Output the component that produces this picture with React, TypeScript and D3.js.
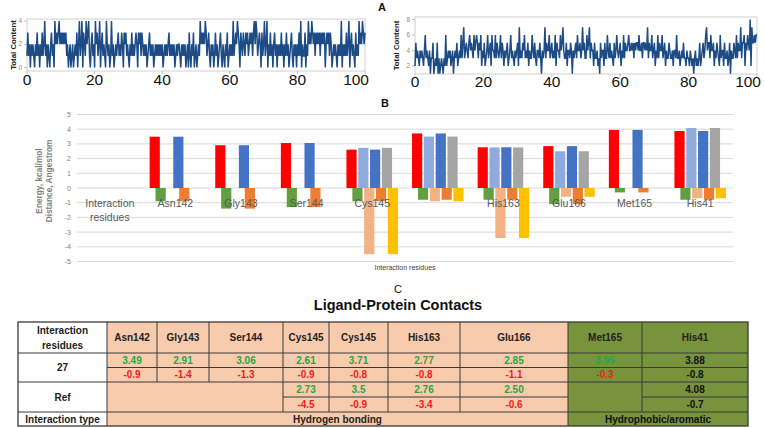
import React from 'react';
import * as d3 from 'd3';

// ---------- Panel A data (Total Content vs time, 0-100 ns, 4 samples per ns) ----------
const contentLeft = [
  1,3,1,2, 0,2,1,2, 1,0,2,1, 3,1,2,0, 2,1,3,1, 2,4,1,2, 0,2,1,0, 2,3,1,2, 0,4,2,3, 2,3,4,2,
  3,2,3,2, 3,2,3,1, 2,0,1,2, 0,1,2,0, 1,2,1,3, 0,2,4,1, 2,4,0,3, 2,1,4,2, 3,4,1,0, 2,3,1,2,
  0,4,2,3, 1,2,4,0, 2,3,1,2, 1,0,4,2, 1,2,0,1, 4,1,2,0, 1,2,1,2, 3,1,2,1, 3,2,0,3, 2,3,1,2,
  1,0,2,1, 3,1,2,1, 2,3,2,0, 3,2,3,1, 3,2,1,2, 1,2,0,1, 2,3,1,2, 1,2,0,1, 2,1,2,1, 2,1,2,1,
  2,0,1,2, 1,2,1,2, 3,1,2,1, 2,1,2,0, 1,2,1,2, 2,1,0,2, 1,2,1,2, 0,1,2,0, 3,1,0,2, 1,3,0,1,
  2,0,1,2, 1,4,2,3, 2,3,2,4, 3,1,2,3, 1,0,2,1, 2,0,1,3, 1,2,0,1, 2,3,1,0, 2,1,0,2, 1,3,0,1,
  2,1,2,1, 4,1,2,3, 2,4,3,2, 0,3,2,1, 3,2,1,3, 2,3,1,2, 3,2,3,1, 3,4,2,4, 3,1,2,3, 2,0,3,1,
  2,4,1,2, 4,0,2,1, 3,1,2,0, 2,3,1,2, 0,2,1,2, 1,3,1,2, 0,2,1,3, 1,2,0,1, 2,3,1,0, 2,1,2,0,
  2,1,3,1, 4,0,2,1, 1,3,0,2, 1,4,2,3, 2,4,3,2, 3,1,3,2, 3,2,3,1, 3,2,3,2, 3,0,2,3, 2,3,1,3,
  2,0,1,2, 1,2,1,0, 2,1,2,1, 4,0,2,1, 2,1,3,1, 2,4,0,2, 3,1,2,1, 0,3,1,2, 1,4,2,3, 2,4,3,2, 3,
];
const contentRight = [
  2,5,3,4, 3,2,4,3, 4,3,2,4, 6,3,4,3, 2,4,1,3, 3,5,1,2, 3,2,5,1, 3,1,2,3, 2,1,3,2, 6,2,3,4,
  3,4,2,3, 4,1,3,4, 3,5,2,3, 4,3,6,3, 5,7,3,4, 5,4,3,5, 6,4,5,4, 3,6,4,5, 6,5,3,5, 4,6,2,4,
  3,5,2,3, 4,6,3,4, 5,2,6,4, 4,3,6,3, 5,4,3,4, 6,3,5,4, 2,4,3,4, 5,2,3,4, 6,3,4,3, 2,4,3,4,
  5,2,7,3, 4,3,5,4, 6,3,4,3, 5,2,4,3, 3,6,4,3, 5,3,2,4, 4,3,5,3, 1,4,3,4, 7,3,5,4, 4,6,3,4,
  5,3,4,3, 6,2,5,4, 4,3,6,4, 5,7,4,3, 3,5,2,4, 4,3,5,4, 1,4,3,4, 5,3,6,4, 4,5,3,4, 7,4,5,3,
  3,6,4,5, 7,3,5,4, 4,2,5,3, 3,4,2,3, 1,5,3,4, 4,2,5,3, 3,6,4,3, 5,3,4,3, 2,5,3,4, 6,4,3,4,
  5,2,4,3, 6,3,5,4, 4,5,6,4, 4,5,4,5, 3,5,4,5, 5,4,6,4, 4,5,3,5, 5,4,5,4, 7,3,5,4, 4,6,3,4,
  5,2,4,3, 6,3,5,4, 4,6,3,4, 5,2,4,3, 3,5,4,3, 3,4,2,4, 4,3,6,3, 3,4,2,3, 4,3,5,3, 3,2,4,3,
  3,2,4,3, 2,3,1,3, 4,2,3,2, 3,5,2,3, 4,5,3,4, 6,7,4,5, 5,3,6,4, 4,5,2,4, 3,5,4,3, 2,6,3,4,
  4,2,5,3, 3,4,2,3, 5,1,4,3, 3,5,4,3, 6,3,5,4, 4,7,3,5, 5,6,2,5, 4,6,5,4, 8,2,7,5, 5,6,5,6, 6,
];
const timeTicks = [0, 20, 40, 60, 80, 100];
const leftYTicks = [0, 2, 4];
const rightYTicks = [2, 4, 6, 8];

// ---------- Panel B data ----------
const categories = ['Interaction residues', 'Asn142', 'Gly143', 'Ser144', 'Cys145', 'Cys145 (2)', 'His163', 'Glu166', 'Met165', 'His41'];
const categoryLabels = [['Interaction', 'residues'], ['Asn142'], ['Gly143'], ['Ser144'], ['Cys145'], [''], ['His163'], ['Glu166'], ['Met165'], ['His41']];
const dist27 = [null, 3.49, 2.91, 3.06, 2.61, 3.71, 2.77, 2.85, 3.95, 3.88];
const energy27 = [null, -0.9, -1.4, -1.3, -0.9, -0.8, -0.8, -1.1, -0.3, -0.8];
const distRef = [null, null, null, null, 2.73, 3.5, 2.76, 2.5, null, 4.08];
const energyRef = [null, null, null, null, -4.5, -0.9, -3.4, -0.6, null, -0.7];
const dist27b = [null, 3.49, 2.91, 3.06, 2.61, 3.71, 2.77, 2.85, 3.95, 3.88];
const energy27b = [null, -0.9, -1.4, -1.3, -0.9, -0.8, -0.8, -1.1, -0.3, -0.8];
const distRefb = [null, null, null, null, 2.73, 3.5, 2.76, 2.5, null, 4.08];
const energyRefb = [null, null, null, null, -4.5, -0.9, -3.4, -0.6, null, -0.7];
const barSeries = [dist27, energy27, distRef, energyRef, dist27b, energy27b, distRefb, energyRefb];
const barColors = ['#FF0000', '#62A03F', '#8FAADC', '#F4B183', '#4472C4', '#ED7D31', '#A5A5A5', '#FFC000'];
const barYTicks = [5, 4, 3, 2, 1, 0, -1, -2, -3, -4, -5];

// ---------- Panel C data ----------
const tableResidues = ['Asn142', 'Gly143', 'Ser144', 'Cys145', 'Cys145', 'His163', 'Glu166', 'Met165', 'His41'];
const tDist27 = ['3.49', '2.91', '3.06', '2.61', '3.71', '2.77', '2.85', '3.95', '3.88'];
const tEnergy27 = ['-0.9', '-1.4', '-1.3', '-0.9', '-0.8', '-0.8', '-1.1', '-0.3', '-0.8'];
const tDistRef = [null, null, null, '2.73', '3.5', '2.76', '2.50', null, '4.08'];
const tEnergyRef = [null, null, null, '-4.5', '-0.9', '-3.4', '-0.6', null, '-0.7'];

const FONT = 'Liberation Sans, Arial, sans-serif';

function TimePanel({ data, x0, x1, yTop, yBot, yDomain, yRange, yTicks, labelBase, yTitleX }) {
  const x = d3.scaleLinear().domain([0, 100]).range([x0, x1]);
  const y = d3.scaleLinear().domain(yDomain).range(yRange);
  const n = data.length;
  const line = d3.line<number>().x((_, i) => x((i * 100) / (n - 1))).y((d) => y(d));
  return (
    <g>
      <rect x={x0} y={yTop} width={x1 - x0} height={yBot - yTop} fill="#fff" stroke="#CFCFCF" strokeWidth={1} />
      {yTicks.map((t) => (
        <g key={t}>
          <line x1={x0 - 3} x2={x0} y1={y(t)} y2={y(t)} stroke="#BFBFBF" />
          <text x={x0 - 5} y={y(t) + 2.2} fontSize={6.5} fill="#8C8C8C" textAnchor="end" fontFamily={FONT}>{t}</text>
        </g>
      ))}
      {timeTicks.map((t) => (
        <line key={t} x1={x(t)} x2={x(t)} y1={yBot} y2={yBot + 3} stroke="#BFBFBF" />
      ))}
      <path d={line(data) || ''} fill="none" stroke="#1D4B85" strokeWidth={1.5} strokeLinejoin="miter" />
      {timeTicks.map((t) => (
        <text key={t} x={t === 100 ? x(t) + 4 : x(t)} y={labelBase} fontSize={15.5} fill="#111" textAnchor={t === 100 ? 'end' : 'middle'} fontFamily={FONT}>{t}</text>
      ))}
      <text transform={`translate(${yTitleX},${(yTop + yBot) / 2}) rotate(-90)`} fontSize={7.8} fontWeight="bold" fill="#222" textAnchor="middle" fontFamily={FONT}>Total Content</text>
    </g>
  );
}

function BarPanel() {
  const x = d3.scaleBand<string>().domain(categories).range([77, 733]).padding(0);
  const y = d3.scaleLinear().domain([-5, 5]).range([261.5, 114.5]);
  const bw = x.bandwidth();
  const barW = bw * 0.155;
  const step = bw * 0.09;
  const clusterW = step * (barSeries.length - 1) + barW;
  return (
    <g>
      {barYTicks.map((t) => (
        <g key={t}>
          <line x1={77} x2={733} y1={y(t)} y2={y(t)} stroke="#D9D9D9" strokeWidth={1} />
          <text x={71} y={y(t) + 2.5} fontSize={7} fill="#7F7F7F" textAnchor="end" fontFamily={FONT}>{t}</text>
        </g>
      ))}
      {barSeries.map((s, si) =>
        s.map((v, ci) => {
          if (v === null) return null;
          const cx = (x(categories[ci]) as number) + bw / 2 - clusterW / 2 + si * step;
          const yv = y(v);
          const y0 = y(0);
          return <rect key={`${si}-${ci}`} x={cx} y={Math.min(yv, y0)} width={barW} height={Math.abs(yv - y0)} fill={barColors[si]} />;
        })
      )}
      {categoryLabels.map((lines, ci) => (
        <text key={ci} x={(x(categories[ci]) as number) + bw / 2} y={206.5} fontSize={10.5} fill="#595959" textAnchor="middle" fontFamily={FONT}>
          {lines.map((l, li) => (
            <tspan key={li} x={(x(categories[ci]) as number) + bw / 2} dy={li === 0 ? 0 : 14.5}>{l}</tspan>
          ))}
        </text>
      ))}
      <text x={405} y={270} fontSize={7} fill="#404040" textAnchor="middle" fontFamily={FONT}>Interaction residues</text>
      <text transform={`translate(42,${(114.5 + 261.5) / 2 - 7}) rotate(-90)`} fontSize={8.3} fontWeight="bold" fill="#7F7F7F" textAnchor="middle" fontFamily={FONT}>
        <tspan x={0} dy={0}>Energy, kcal/mol</tspan>
        <tspan x={0} dy={9.5}>Distance, Angestrom</tspan>
      </text>
    </g>
  );
}

function TablePanel() {
  const colX = [18, 107, 157, 209, 283, 329, 388, 460, 568, 642, 748];
  const rowY = [322, 353, 367.5, 382, 397, 412, 426];
  const peach = '#F8CBAD';
  const green = '#77933C';
  const border = '#3A3A3A';
  const txtGreen = '#23A845';
  const txtRed = '#EE1C1C';
  const cx = (i) => (colX[i] + colX[i + 1]) / 2;
  const cy = (r) => (rowY[r] + rowY[r + 1]) / 2 + 3.6;
  const vLines = [];
  for (let k = 2; k <= 9; k++) {
    const xx = colX[k];
    vLines.push([xx, rowY[0], rowY[3]]);
    if (k >= 4) vLines.push([xx, rowY[3], rowY[5]]);
    if (k === 8) vLines.push([xx, rowY[5], rowY[6]]);
  }
  const textProps = { fontSize: 10, fontWeight: 'bold', textAnchor: 'middle', fontFamily: FONT };
  return (
    <g>
      <text x={398} y={293} fontSize={11} fill="#111" textAnchor="middle" fontFamily={FONT}>C</text>
      <text x={398} y={310} fontSize={14.5} fontWeight="bold" fill="#111" textAnchor="middle" fontFamily={FONT}>Ligand-Protein Contacts</text>
      <rect x={colX[0]} y={rowY[0]} width={colX[1] - colX[0]} height={rowY[6] - rowY[0]} fill="#fff" />
      <rect x={colX[1]} y={rowY[0]} width={colX[8] - colX[1]} height={rowY[6] - rowY[0]} fill={peach} />
      <rect x={colX[8]} y={rowY[0]} width={colX[10] - colX[8]} height={rowY[6] - rowY[0]} fill={green} />
      {[rowY[1], rowY[3], rowY[5]].map((yy) => (
        <line key={yy} x1={colX[0]} x2={colX[10]} y1={yy} y2={yy} stroke={border} />
      ))}
      <line x1={colX[1]} x2={colX[10]} y1={rowY[2]} y2={rowY[2]} stroke={border} />
      <line x1={colX[4]} x2={colX[8]} y1={rowY[4]} y2={rowY[4]} stroke={border} />
      <line x1={colX[9]} x2={colX[10]} y1={rowY[4]} y2={rowY[4]} stroke={border} />
      <line x1={colX[1]} x2={colX[1]} y1={rowY[0]} y2={rowY[6]} stroke={border} />
      {vLines.map(([xx, a, b], i) => (
        <line key={i} x1={xx} x2={xx} y1={a} y2={b} stroke={border} />
      ))}
      <rect x={colX[0]} y={rowY[0]} width={colX[10] - colX[0]} height={rowY[6] - rowY[0]} fill="none" stroke={border} strokeWidth={1.3} />
      <text x={cx(0)} y={330 + 3.6} fill="#222" {...textProps}>Interaction</text>
      <text x={cx(0)} y={345 + 3.6} fill="#222" {...textProps}>residues</text>
      {tableResidues.map((r, i) => (
        <text key={i} x={cx(i + 1)} y={(rowY[0] + rowY[1]) / 2 + 3.6} fill="#222" {...textProps}>{r}</text>
      ))}
      <text x={cx(0)} y={(rowY[1] + rowY[3]) / 2 + 3.6} fill="#222" {...textProps}>27</text>
      <text x={cx(0)} y={(rowY[3] + rowY[5]) / 2 + 3.6} fill="#222" {...textProps}>Ref</text>
      <text x={cx(0)} y={cy(5)} fill="#222" {...textProps}>Interaction type</text>
      {tDist27.map((v, i) => (
        <text key={i} x={cx(i + 1)} y={cy(1)} fill={i === 8 ? '#111' : txtGreen} {...textProps}>{v}</text>
      ))}
      {tEnergy27.map((v, i) => (
        <text key={i} x={cx(i + 1)} y={cy(2)} fill={i === 8 ? '#111' : txtRed} {...textProps}>{v}</text>
      ))}
      {tDistRef.map((v, i) => v === null ? null : (
        <text key={i} x={cx(i + 1)} y={cy(3)} fill={i === 8 ? '#111' : txtGreen} {...textProps}>{v}</text>
      ))}
      {tEnergyRef.map((v, i) => v === null ? null : (
        <text key={i} x={cx(i + 1)} y={cy(4)} fill={i === 8 ? '#111' : txtRed} {...textProps}>{v}</text>
      ))}
      <text x={(colX[1] + colX[8]) / 2} y={cy(5)} fill="#222" {...textProps}>Hydrogen bonding</text>
      <text x={(colX[8] + colX[10]) / 2} y={cy(5)} fill="#111" {...textProps}>Hydrophobic/aromatic</text>
    </g>
  );
}

export default function App() {
  return (
    <svg width={765} height={428} style={{ position: 'absolute', left: 0, top: 0, background: '#fff' }} fontFamily={FONT}>
      <rect x={0} y={0} width={765} height={428} fill="#fff" />
      <TimePanel data={contentLeft} x0={27} x1={365} yTop={19} yBot={71} yDomain={[0, 4]} yRange={[67.5, 21]} yTicks={leftYTicks} labelBase={85} yTitleX={16} />
      <TimePanel data={contentRight} x0={415} x1={757} yTop={17} yBot={74} yDomain={[2, 8]} yRange={[66, 19.5]} yTicks={rightYTicks} labelBase={87} yTitleX={399} />
      <text x={382} y={11} fontSize={11} fontWeight="bold" fill="#111" textAnchor="middle" fontFamily={FONT}>A</text>
      <text x={385} y={107} fontSize={11} fontWeight="bold" fill="#111" textAnchor="middle" fontFamily={FONT}>B</text>
      <BarPanel />
      <TablePanel />
    </svg>
  );
}
